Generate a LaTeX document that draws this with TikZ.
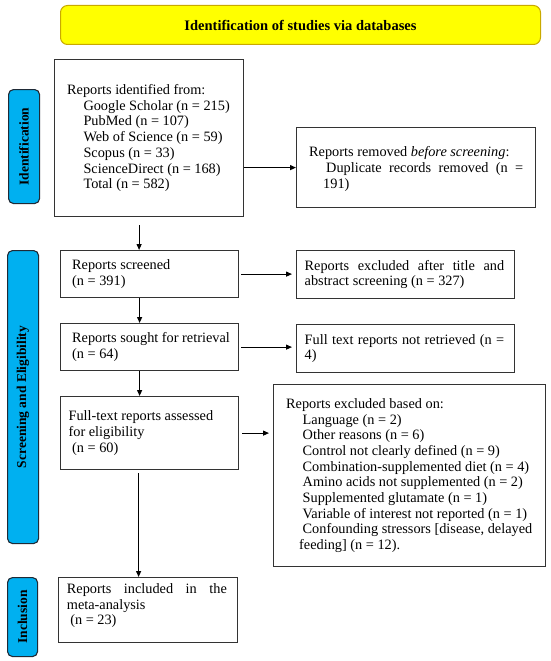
\documentclass[tikz,border=0pt]{standalone}
\usepackage{fontspec}
\setmainfont{Liberation Serif}
\usetikzlibrary{arrows.meta,calc}
\definecolor{sideblue}{HTML}{00B0F0}
\definecolor{sideedge}{HTML}{1F2A36}
\definecolor{titlefill}{HTML}{FFFF00}
\definecolor{titleedge}{HTML}{C9A900}
\definecolor{boxedge}{HTML}{333333}
\newcommand\jl[2]{\makebox[#1][s]{#2}}
\begin{document}
\begin{tikzpicture}[x=1pt,y=-1pt,
  box/.style={draw=boxedge,line width=1.2pt,inner sep=0pt,anchor=north west},
  txt/.style={anchor=west,align=left,inner sep=0pt,font=\fontsize{14.3pt}{15.7pt}\selectfont},
  side/.style={draw=sideedge,fill=sideblue,line width=1.1pt,rounded corners=5pt,inner sep=0pt,anchor=north west},
  sidetxt/.style={rotate=90,inner sep=0pt,font=\bfseries\fontsize{13.5pt}{15pt}\selectfont},
  titlebox/.style={draw=titleedge,fill=titlefill,line width=1pt,rounded corners=7pt,inner sep=0pt,anchor=north west,font=\bfseries\fontsize{14.5pt}{17pt}\selectfont},
  arr/.style={draw=black,line width=1.1pt,-{Triangle[length=6pt,width=5pt]}}]
\useasboundingbox (0,0) rectangle (550,661);

% title
\node[titlebox,minimum width=480pt,minimum height=39pt] (title) at (60,5) {Identification of studies via databases};

% side labels
\node[side,minimum width=31pt,minimum height=114pt] (identlab) at (8,89) {};
\node[sidetxt] (identlabtxt) at (identlab.center) {Identification};
\node[side,minimum width=31pt,minimum height=293pt] (screenlab) at (7,250) {};
\node[sidetxt] (screenlabtxt) at (screenlab.center) {Screening and Eligibility};
\node[side,minimum width=30pt,minimum height=79pt] (incllab) at (7,577) {};
\node[sidetxt] (incllabtxt) at (incllab.center) {Inclusion};

% boxes
\node[box,minimum width=189pt,minimum height=157pt] (ident) at (54,59) {};
\node[box,minimum width=239pt,minimum height=80pt] (removed) at (296,127) {};
\node[box,minimum width=178pt,minimum height=47pt] (screened) at (60,250) {};
\node[box,minimum width=218pt,minimum height=48pt] (excltitle) at (296,250) {};
\node[box,minimum width=178pt,minimum height=47pt] (sought) at (60,323) {};
\node[box,minimum width=218pt,minimum height=48pt] (notretr) at (296,324) {};
\node[box,minimum width=178pt,minimum height=73pt] (fulltext) at (60,396) {};
\node[box,minimum width=272pt,minimum height=182pt] (exclbased) at (273,384) {};
\node[box,minimum width=179pt,minimum height=65pt] (inclusion) at (58,577) {};

% texts
\node[txt] (identtxt) at ([xshift=13pt]ident.west) {Reports identified from:\\
\hspace*{16.3pt}Google Scholar (n = 215)\\
\hspace*{16.3pt}PubMed (n = 107)\\
\hspace*{16.3pt}Web of Science (n = 59)\\
\hspace*{16.3pt}Scopus (n = 33)\\
\hspace*{16.3pt}ScienceDirect (n = 168)\\
\hspace*{16.3pt}Total (n = 582)};
\node[txt] (removedtxt) at ([xshift=13pt,yshift=-1.5pt]removed.west) {Reports removed \textit{before screening}:\\
\hspace*{17pt}\jl{197pt}{Duplicate records removed (n =}\\
\hspace*{14pt}191)};
\node[txt] (screenedtxt) at ([xshift=12pt]screened.west) {Reports screened\\(n = 391)};
\node[txt] (excltitletxt) at ([xshift=8.5pt]excltitle.west) {\jl{199.5pt}{Reports excluded after title and}\\abstract screening (n = 327)};
\node[txt] (soughttxt) at ([xshift=12pt]sought.west) {Reports sought for retrieval\\(n = 64)};
\node[txt] (notretrtxt) at ([xshift=8.5pt]notretr.west) {\jl{199.5pt}{Full text reports not retrieved (n =}\\4)};
\node[txt] (fulltexttxt) at ([xshift=8.4pt]fulltext.west) {Full-text reports assessed\\for eligibility\\\hspace*{3.6pt}(n = 60)};
\node[txt] (exclbasedtxt) at ([xshift=13pt]exclbased.west) {Reports excluded based on:\\
\hspace*{16.5pt}Language (n = 2)\\
\hspace*{16.5pt}Other reasons (n = 6)\\
\hspace*{16.5pt}Control not clearly defined (n = 9)\\
\hspace*{16.5pt}Combination-supplemented diet (n = 4)\\
\hspace*{16.5pt}Amino acids not supplemented (n = 2)\\
\hspace*{16.5pt}Supplemented glutamate (n = 1)\\
\hspace*{16.5pt}Variable of interest not reported (n = 1)\\
\hspace*{16.5pt}Confounding stressors [disease, delayed\\
\hspace*{13pt}feeding] (n = 12).};
\node[txt] (inclusiontxt) at ([xshift=8.7pt,yshift=4.5pt]inclusion.west) {\jl{160pt}{Reports included in the}\\meta-analysis\\\hspace*{3.4pt}(n = 23)};

% connectors
\draw[arr] ([xshift=-10pt,yshift=-8pt]ident.south) -- ([xshift=-10pt]ident.south |- screened.north);
\draw[arr] ([xshift=-10pt]screened.south) -- ([xshift=-10pt]screened.south |- sought.north);
\draw[arr] ([xshift=-10pt]sought.south) -- ([xshift=-10pt]sought.south |- fulltext.north);
\draw[arr] ([xshift=-11pt,yshift=-3pt]fulltext.south) -- ([xshift=-11pt]fulltext.south |- inclusion.north);
\draw[arr] (ident.east |- removed.west) -- (removed.west);
\draw[arr,shorten <=2pt,shorten >=4pt] (screened.east) -- (screened.east -| excltitle.west);
\draw[arr,shorten <=2pt,shorten >=4pt] (sought.east) -- (sought.east -| notretr.west);
\draw[arr,shorten <=3pt,shorten >=4pt] (fulltext.east) -- (fulltext.east -| exclbased.west);
\end{tikzpicture}
\end{document}
